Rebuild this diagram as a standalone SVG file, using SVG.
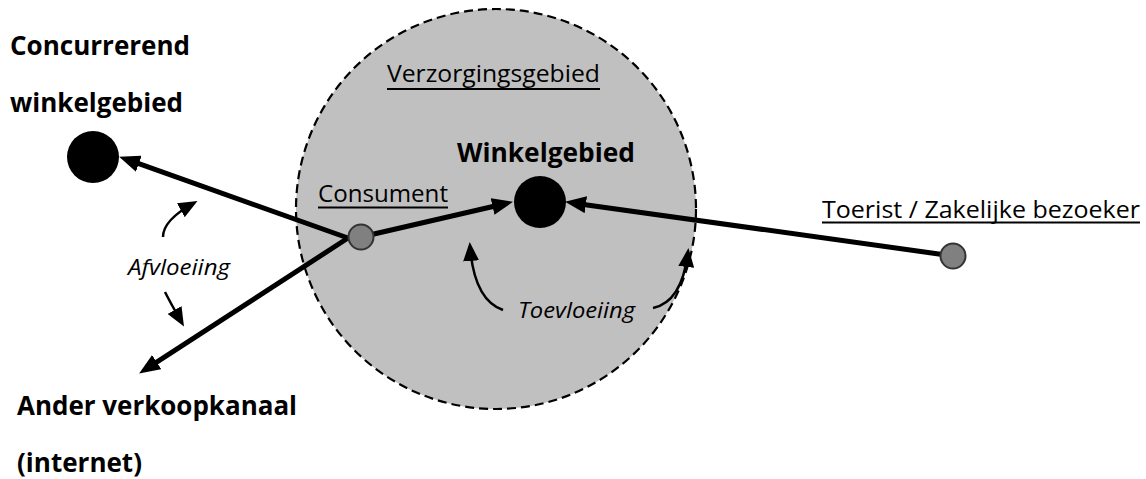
<svg xmlns="http://www.w3.org/2000/svg" width="1146" height="479" viewBox="0 0 1146 479">
  <style>
    .lbl { font-family: "Open Sans", "Liberation Sans", sans-serif; fill: #000; }
    .bold { font-weight: bold; font-size: 27px; }
    .plain { font-size: 24px; }
    .ital { font-style: italic; font-size: 22px; }
    .flow { stroke: #000; stroke-width: 5; fill: none; marker-end: url(#head); }
    .swirl { stroke: #000; stroke-width: 2.5; fill: none; marker-end: url(#smallhead); }
    .uline { stroke: #000; stroke-width: 2; }
    .hub { fill: #000; }
    .point { fill: #808080; stroke: #333; stroke-width: 2; }
  </style>
  <defs>
    <marker id="head" viewBox="0 0 21 17" refX="6" refY="8.5" markerWidth="21" markerHeight="17" markerUnits="userSpaceOnUse" orient="auto">
      <path d="M0,0 L21,8.5 L0,17 z" fill="#000"/>
    </marker>
    <marker id="smallhead" viewBox="0 0 19 16" refX="15" refY="8" markerWidth="19" markerHeight="16" markerUnits="userSpaceOnUse" orient="auto">
      <path d="M0,0 L19,8 L0,16 z" fill="#000"/>
    </marker>
  </defs>

  <!-- service area -->
  <g id="verzorgingsgebied">
    <circle cx="496" cy="209" r="200" fill="#c0c0c0" stroke="#000" stroke-width="2.2" stroke-dasharray="9,5"/>
    <text class="lbl plain" x="387" y="82" textLength="213" lengthAdjust="spacingAndGlyphs">Verzorgingsgebied</text>
    <line class="uline" x1="387" y1="89" x2="600" y2="89"/>
  </g>

  <!-- connectors -->
  <g id="connectors">
    <line class="flow" x1="348" y1="238" x2="133.2" y2="161.7"/>
    <line class="flow" x1="348" y1="238" x2="151.7" y2="365.4"/>
    <line class="flow" x1="361" y1="237" x2="498.4" y2="205.2"/>
    <line class="flow" x1="953" y1="256" x2="579.9" y2="203.9"/>
    <path class="swirl" d="M163,237 Q163,220 194,203"/>
    <path class="swirl" d="M165,292 Q170,302 182,323"/>
    <path class="swirl" d="M503,310 Q474,300 470,246"/>
    <path class="swirl" d="M653,308 Q682,302 688,252"/>
  </g>

  <g id="concurrerend">
    <circle class="hub" cx="93" cy="157" r="26"/>
    <text class="lbl bold" x="10" y="55" textLength="180" lengthAdjust="spacingAndGlyphs">Concurrerend</text>
    <text class="lbl bold" x="10" y="112" textLength="173" lengthAdjust="spacingAndGlyphs">winkelgebied</text>
  </g>

  <g id="winkelgebied">
    <circle class="hub" cx="540" cy="202" r="26"/>
    <text class="lbl bold" x="457" y="162" textLength="178" lengthAdjust="spacingAndGlyphs">Winkelgebied</text>
  </g>

  <g id="consument">
    <circle class="point" cx="361" cy="237" r="12.5"/>
    <text class="lbl plain" x="318" y="202" textLength="130" lengthAdjust="spacingAndGlyphs">Consument</text>
    <line class="uline" x1="318" y1="207.5" x2="448" y2="207.5"/>
  </g>

  <g id="toerist">
    <circle class="point" cx="953" cy="256" r="12.5"/>
    <text class="lbl plain" x="822" y="218" textLength="318" lengthAdjust="spacingAndGlyphs">Toerist / Zakelijke bezoeker</text>
    <line class="uline" x1="822" y1="222.5" x2="1140" y2="222.5"/>
  </g>

  <g id="ander-verkoopkanaal">
    <text class="lbl bold" x="17" y="415" textLength="280" lengthAdjust="spacingAndGlyphs">Ander verkoopkanaal</text>
    <text class="lbl bold" x="17" y="472" textLength="125" lengthAdjust="spacingAndGlyphs">(internet)</text>
  </g>

  <g id="afvloeiing">
    <text class="lbl ital" x="128" y="275" textLength="102" lengthAdjust="spacingAndGlyphs">Afvloeiing</text>
  </g>

  <g id="toevloeiing">
    <text class="lbl ital" x="518" y="318" textLength="117" lengthAdjust="spacingAndGlyphs">Toevloeiing</text>
  </g>
</svg>
